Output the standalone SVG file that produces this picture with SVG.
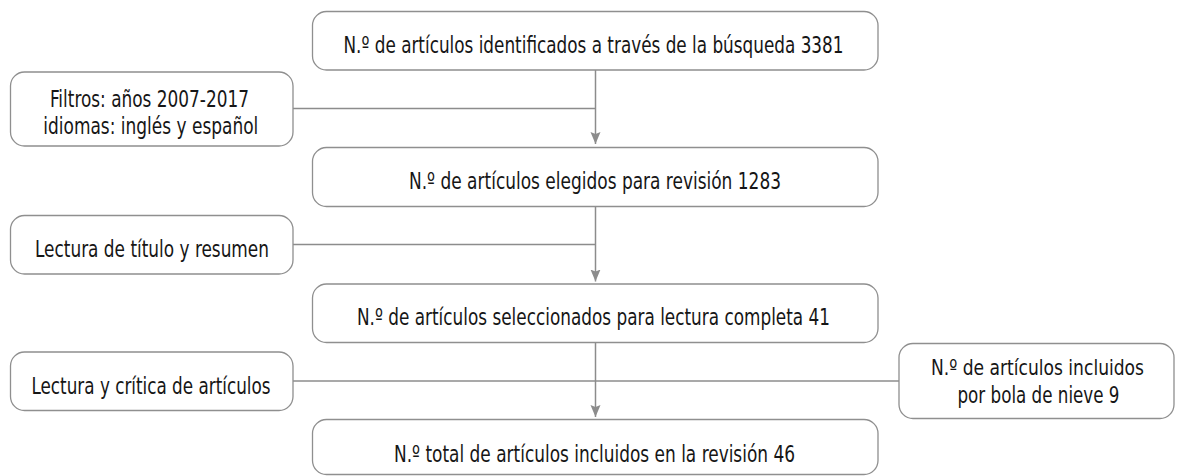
<svg xmlns="http://www.w3.org/2000/svg" width="1177" height="476" viewBox="0 0 1177 476">
  <style>
    .box { fill: #ffffff; stroke: #8f8f8f; stroke-width: 1.3; }
    .lbl { font-family: 'Liberation Sans Narrow', 'DejaVu Sans Condensed', 'Liberation Sans', sans-serif; font-size: 22.5px; fill: #161616; text-anchor: middle; }
    .sm { font-size: 21px; }
    .conn { fill: none; stroke: #8c8c8c; stroke-width: 1.5; }
  </style>
  <defs>
    <marker id="arrow" markerUnits="userSpaceOnUse" markerWidth="14" markerHeight="14" refX="12" refY="0" viewBox="0 -7 14 14" orient="auto">
      <path d="M0,-5 L12,0 L0,5 L2,0 z" fill="#8c8c8c"/>
    </marker>
  </defs>
  <rect width="1177" height="476" fill="#ffffff"/>

  <g id="connectors">
    <line class="conn" x1="595.5" y1="70" x2="595.5" y2="144" marker-end="url(#arrow)"/>
    <line class="conn" x1="293" y1="108.5" x2="595.5" y2="108.5"/>
    <line class="conn" x1="595.5" y1="207" x2="595.5" y2="281.5" marker-end="url(#arrow)"/>
    <line class="conn" x1="293" y1="244.5" x2="595.5" y2="244.5"/>
    <line class="conn" x1="595.5" y1="342.5" x2="595.5" y2="417" marker-end="url(#arrow)"/>
    <line class="conn" x1="293" y1="381" x2="899" y2="381"/>
  </g>

  <g id="n1">
    <rect class="box" x="312.5" y="11.5" width="565.5" height="58.5" rx="14"/>
    <text class="lbl" x="593.5" y="53" textLength="500" lengthAdjust="spacingAndGlyphs">N.º de artículos identificados a través de la búsqueda 3381</text>
  </g>
  <g id="filtros">
    <rect class="box" x="10.5" y="72" width="282.5" height="74" rx="14"/>
    <text class="lbl" x="149.5" y="106.5" textLength="199" lengthAdjust="spacingAndGlyphs">Filtros: años 2007-2017</text>
    <text class="lbl" x="150.8" y="134" textLength="215" lengthAdjust="spacingAndGlyphs">idiomas: inglés y español</text>
  </g>
  <g id="n2">
    <rect class="box" x="312.5" y="147.5" width="565.5" height="59" rx="14"/>
    <text class="lbl" x="595" y="189" textLength="372" lengthAdjust="spacingAndGlyphs">N.º de artículos elegidos para revisión 1283</text>
  </g>
  <g id="titulo">
    <rect class="box" x="10.5" y="215.5" width="282.5" height="58.5" rx="14"/>
    <text class="lbl" x="152" y="257" textLength="234" lengthAdjust="spacingAndGlyphs">Lectura de título y resumen</text>
  </g>
  <g id="n3">
    <rect class="box" x="312.5" y="284" width="565.5" height="58.5" rx="14"/>
    <text class="lbl" x="593.5" y="325" textLength="473" lengthAdjust="spacingAndGlyphs">N.º de artículos seleccionados para lectura completa 41</text>
  </g>
  <g id="critica">
    <rect class="box" x="10.5" y="352" width="282.5" height="58.5" rx="14"/>
    <text class="lbl" x="151" y="393.5" textLength="239" lengthAdjust="spacingAndGlyphs">Lectura y crítica de artículos</text>
  </g>
  <g id="bola">
    <rect class="box" x="899" y="343.5" width="275" height="75" rx="14"/>
    <text class="lbl sm" x="1037.5" y="375" textLength="213" lengthAdjust="spacingAndGlyphs">N.º de artículos incluidos</text>
    <text class="lbl" x="1038.5" y="403" textLength="162" lengthAdjust="spacingAndGlyphs">por bola de nieve 9</text>
  </g>
  <g id="n4">
    <rect class="box" x="312.5" y="419.5" width="565.5" height="55" rx="14"/>
    <text class="lbl" x="594.5" y="461.5" textLength="401" lengthAdjust="spacingAndGlyphs">N.º total de artículos incluidos en la revisión 46</text>
  </g>
</svg>
